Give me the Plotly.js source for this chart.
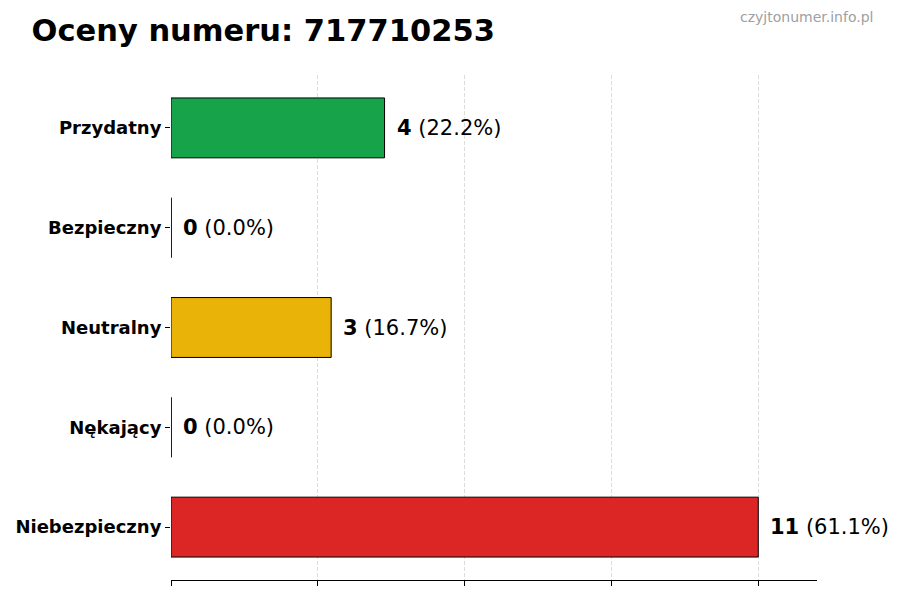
<!DOCTYPE html>
<html>
<head>
<meta charset="utf-8">
<script src="https://cdn.plot.ly/plotly-3.0.1.min.js"></script>
<style>
  html, body { margin: 0; padding: 0; background: #fff; }
  #chart { width: 900px; height: 600px; }
</style>
</head>
<body>
<div id="chart"></div>
<script>
// ratings, top to bottom as in the chart
const categories = ["Przydatny", "Bezpieczny", "Neutralny", "Nękający", "Niebezpieczny"];
const counts = [4, 0, 3, 0, 11];
const colors = ["#16a34a", "#9ca3af", "#eab308", "#f97316", "#dc2626"];

const total = counts.reduce((a, b) => a + b, 0);
const maxVal = Math.max(...counts);
const font = "DejaVu Sans, sans-serif";

// value labels next to each bar
const annotations = counts.map((c, i) => ({
  x: c,
  y: categories[i],
  xref: "x",
  yref: "y",
  xanchor: "left",
  yanchor: "middle",
  xshift: 10,
  showarrow: false,
  text: "<b>" + c + "</b> (" + (total ? (c / total * 100).toFixed(1) : "0.0") + "%)",
  font: { family: font, size: 21, color: "#000" },
}));

annotations.push({
  xref: "paper", yref: "paper",
  x: 1.09, y: 1.115,
  xanchor: "right", yanchor: "middle",
  showarrow: false,
  text: "czyjtonumer.info.pl",
  font: { family: font, size: 14, color: "#a0a0a0" },
});

// zero-length bars still show their edge
const shapes = counts
  .map((c, i) => ({ c, i }))
  .filter((d) => d.c === 0)
  .map((d) => ({
    type: "line",
    xref: "x", yref: "y",
    x0: 0, x1: 0,
    y0: d.i - 0.3, y1: d.i + 0.3,
    line: { color: "#000", width: 1 },
  }));

const ticks = [0, 1, 2, 3, 4].map((k) => (maxVal * k) / 4);

Plotly.newPlot(
  "chart",
  [
    {
      type: "bar",
      orientation: "h",
      x: counts,
      y: categories,
      width: 0.6,
      marker: { color: colors, line: { color: "#000", width: 1 } },
      hoverinfo: "none",
    },
  ],
  {
    width: 900,
    height: 600,
    margin: { l: 171, r: 83, t: 75, b: 20 },
    paper_bgcolor: "#fff",
    plot_bgcolor: "#fff",
    showlegend: false,
    title: {
      text: "<b>Oceny numeru: 717710253</b>",
      font: { family: font, size: 30.5, color: "#000" },
      x: 0.035,
      xanchor: "left",
      y: 0.95,
      yanchor: "middle",
    },
    xaxis: {
      range: [0, maxVal * 1.1],
      tickvals: ticks,
      showticklabels: false,
      ticks: "outside",
      ticklen: 5,
      tickcolor: "#000",
      showline: true,
      linecolor: "#000",
      linewidth: 1,
      showgrid: true,
      gridcolor: "#dcdcdc",
      griddash: "4px,2px",
      gridwidth: 1,
      zeroline: false,
    },
    yaxis: {
      type: "category",
      categoryorder: "array",
      categoryarray: categories,
      range: [4.53, -0.53],
      ticks: "outside",
      ticklen: 5,
      tickcolor: "#000",
      showline: false,
      showgrid: false,
      zeroline: false,
      tickfont: { family: font, size: 18, color: "#000", weight: "bold" },
    },
    annotations: annotations,
    shapes: shapes,
  },
  { staticPlot: true }
);
</script>
</body>
</html>
